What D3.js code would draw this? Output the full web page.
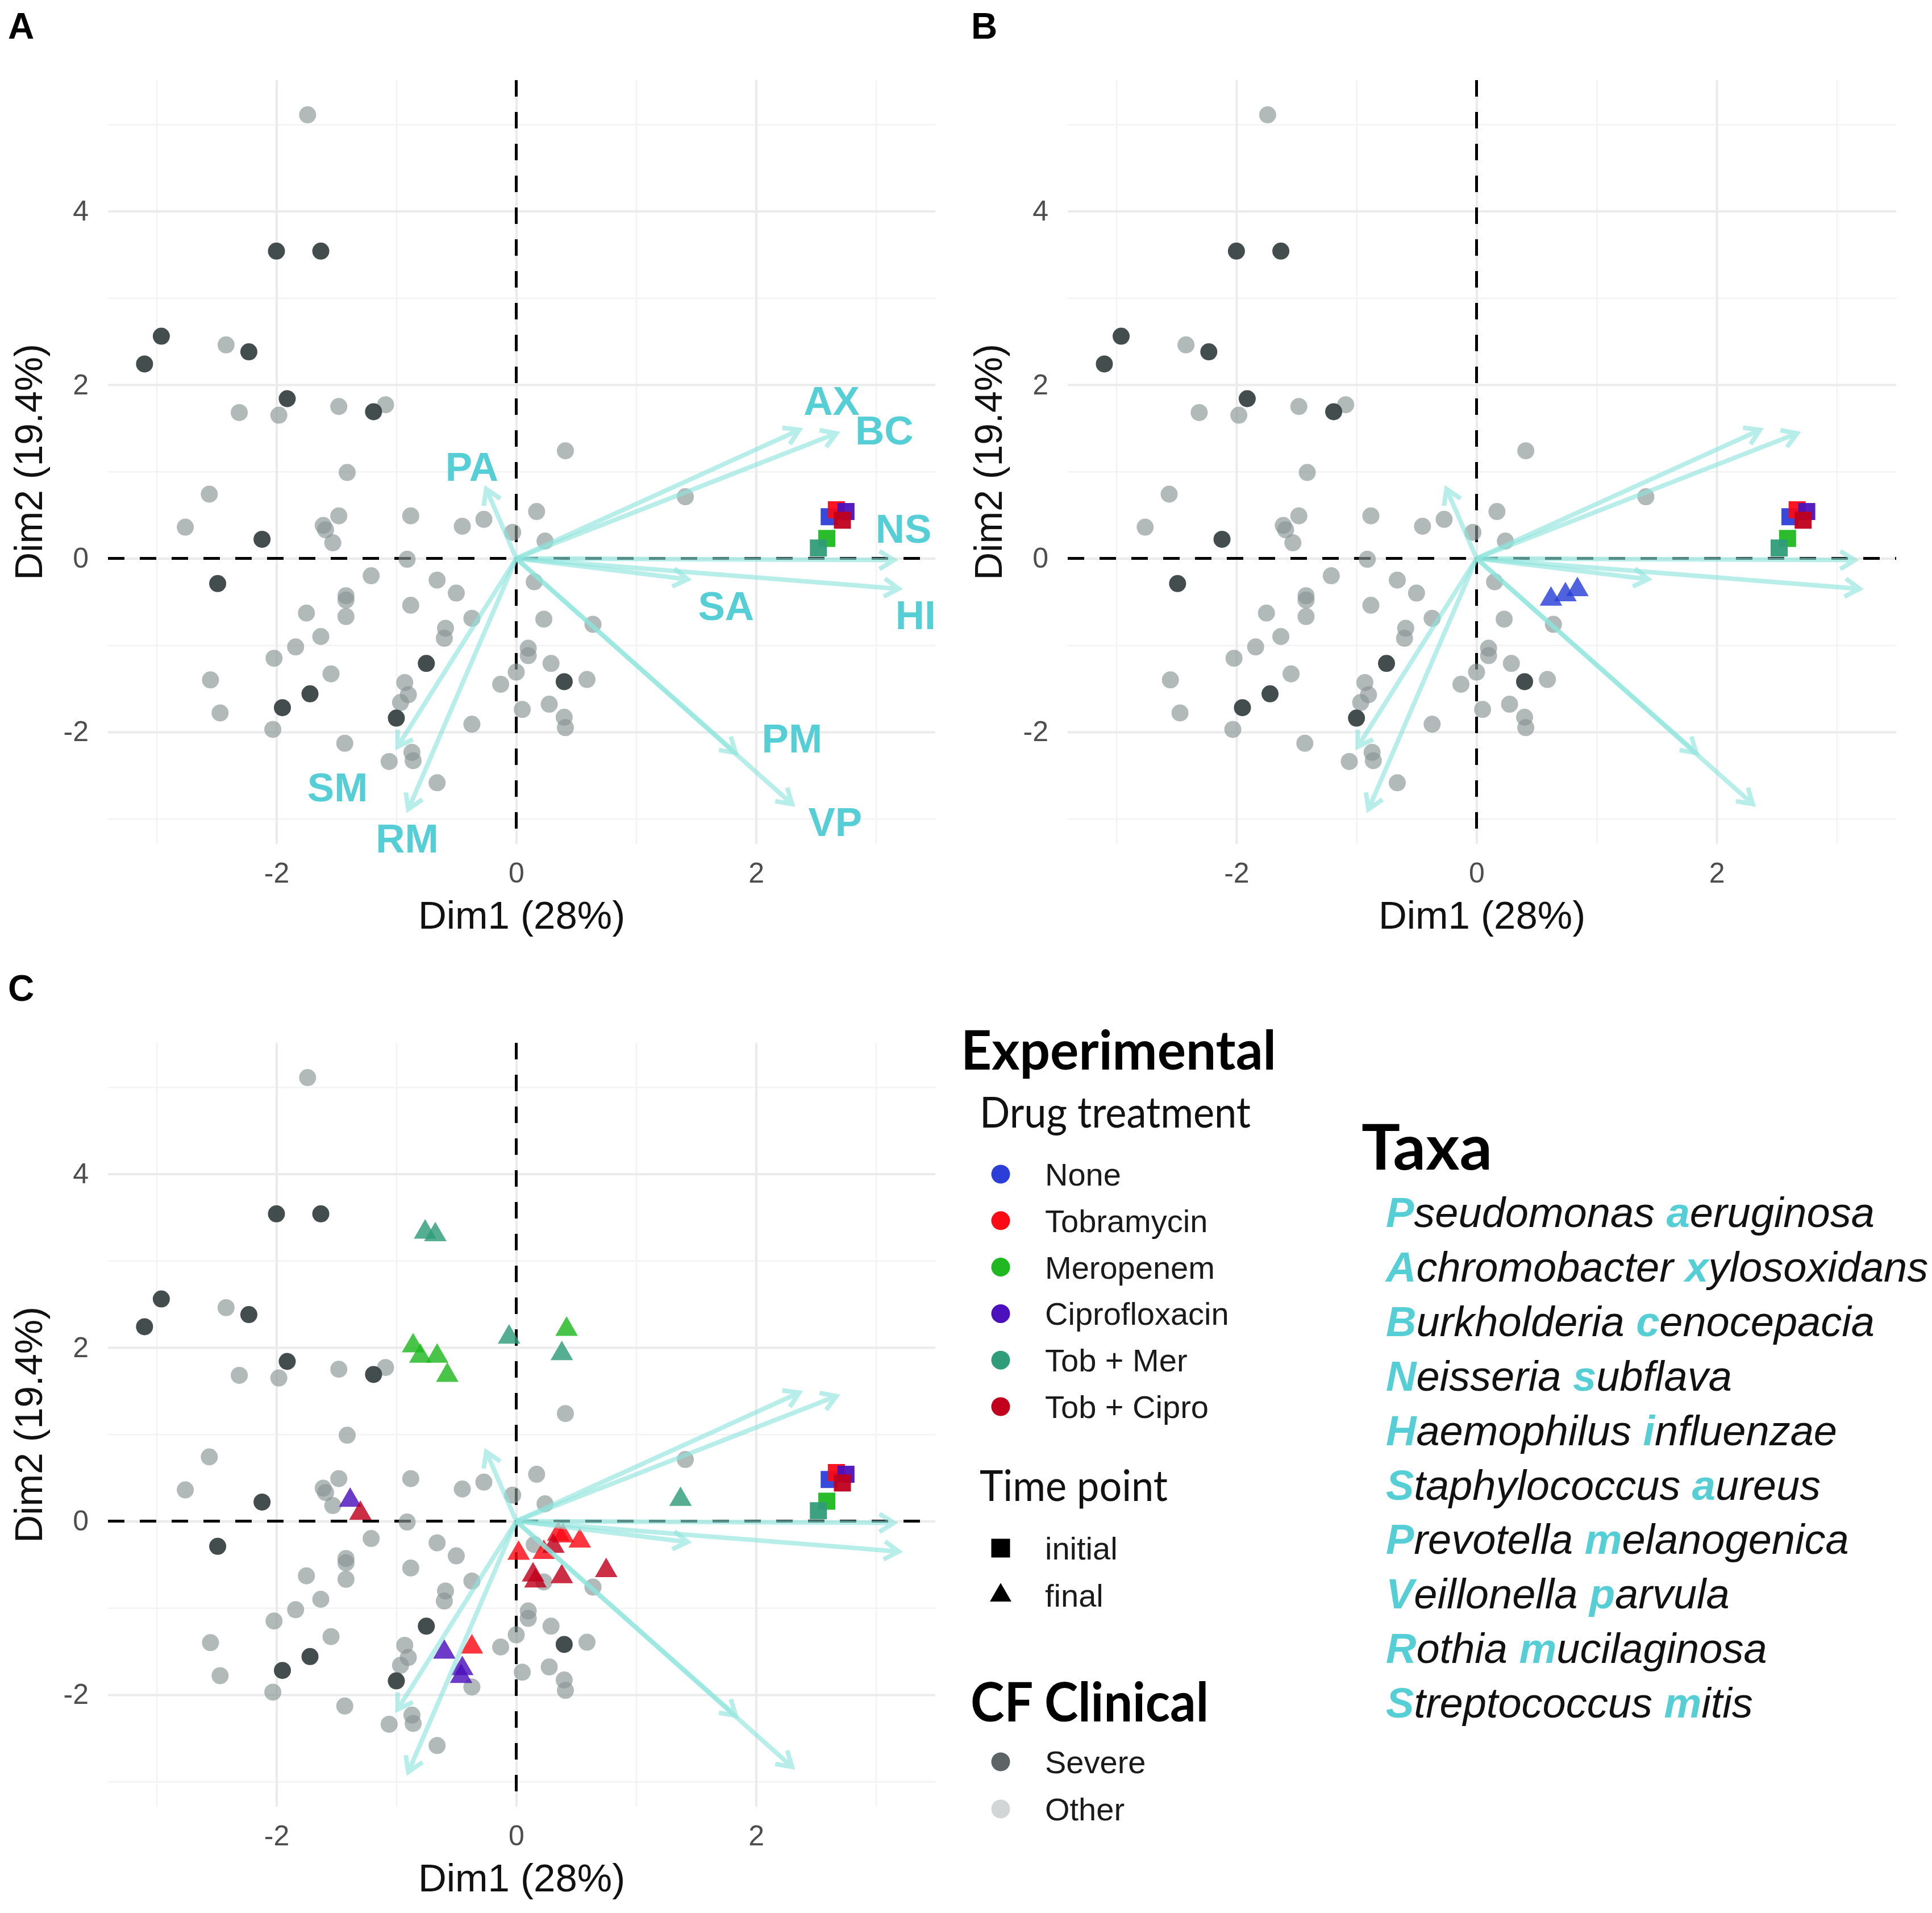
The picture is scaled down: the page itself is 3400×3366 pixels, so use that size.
<!DOCTYPE html>
<html>
<head>
<meta charset="utf-8">
<script src="https://cdn.jsdelivr.net/npm/d3@7"></script>
<style>
  body { margin: 0; background: #fff; }
  svg { display: block; }
</style>
</head>
<body>
<div id="fig"></div>
<script>
// ---- values (PCA scores) ----
// CF clinical samples, "Other"
const otherX = [-1.74, -2.42, -2.31, -1.98, -1.48, -1.09, -1.41, -2.56, -2.76, -1.48, -1.61, -1.59, -1.53, -0.88, -0.45, -0.27, -0.03, 0.17, 0.24, 0.41, 1.41,
  -0.91, -1.21, -0.66, -0.50, -0.88, -1.42, -1.42, -1.42, -1.75, -1.63, -1.84, -2.02, -1.545, -2.55, -2.47, -2.03, -1.43, -1.06, -0.87, -0.86, -0.66,
  -0.93, -0.90, -0.965, -0.59, -0.60, -0.37, -0.37, -0.13, 0.00, 0.05, 0.15, 0.23, 0.10, 0.10, 0.29, 0.275, 0.40, 0.41, 0.59, 0.64];
const otherY = [5.11, 2.46, 1.68, 1.65, 1.75, 1.77, 0.99, 0.74, 0.36, 0.49, 0.38, 0.33, 0.18, 0.49, 0.37, 0.45, 0.30, 0.54, 0.20, 1.24, 0.71,
  -0.01, -0.20, -0.25, -0.40, -0.54, -0.43, -0.48, -0.67, -0.63, -0.90, -1.02, -1.15, -1.33, -1.40, -1.78, -1.97, -2.13, -2.34, -2.235, -2.33, -2.585,
  -1.43, -1.57, -1.66, -0.805, -0.92, -0.69, -1.91, -1.45, -1.31, -1.74, -0.27, -0.70, -1.035, -1.12, -1.21, -1.68, -1.83, -1.95, -1.395, -0.76];
// CF clinical samples, "Severe"
const severeX = [-2.00, -1.63, -2.96, -3.10, -2.23, -1.91, -1.19, -2.12, -2.49, -0.75, -1.72, -1.95, -1.00, 0.40];
const severeY = [3.54, 3.54, 2.56, 2.24, 2.38, 1.84, 1.69, 0.22, -0.29, -1.21, -1.56, -1.72, -1.84, -1.42];

// taxa loadings (arrow tips) and where their labels sit
const taxaCodes = ["PA", "AX", "BC", "NS", "HI", "SA", "PM", "VP", "SM", "RM"];
const arrowX = [-0.25, 2.36, 2.67, 3.15, 3.19, 1.43, 1.83, 2.30, -0.99, -0.90];
const arrowY = [0.80, 1.48, 1.44, -0.02, -0.35, -0.24, -2.24, -2.83, -2.17, -2.89];
const labelX = [-0.37, 2.63, 3.07, 3.23, 3.33, 1.75, 2.30, 2.66, -1.49, -0.91];
const labelY = [1.06, 1.82, 1.48, 0.35, -0.65, -0.54, -2.07, -3.03, -2.63, -3.22];

// drug treatments
const treatments = ["None", "Tobramycin", "Meropenem", "Ciprofloxacin", "Tob + Mer", "Tob + Cipro"];
const treatColors = ["#2b3fd8", "#fa0a14", "#20b820", "#4c10bc", "#2f9c7a", "#c0001c"];

// initial time point (squares) - drawn in every panel
const initTreat = ["None", "Tobramycin", "Ciprofloxacin", "Tob + Cipro", "Meropenem", "Tob + Mer"];
const initX = [2.61, 2.67, 2.75, 2.72, 2.59, 2.52];
const initY = [0.48, 0.56, 0.54, 0.44, 0.23, 0.12];

// final time point, no drug (panel B)
const noneFinalX = [0.62, 0.74, 0.84];
const noneFinalY = [-0.47, -0.42, -0.36];

// final time point, with drug (panel C)
const finalTreat = ["Meropenem", "Meropenem", "Meropenem", "Meropenem", "Meropenem",
  "Tob + Mer", "Tob + Mer", "Tob + Mer", "Tob + Mer", "Tob + Mer",
  "Ciprofloxacin", "Ciprofloxacin", "Ciprofloxacin", "Ciprofloxacin",
  "Tobramycin", "Tobramycin", "Tobramycin", "Tobramycin", "Tobramycin", "Tobramycin",
  "Tob + Cipro", "Tob + Cipro", "Tob + Cipro", "Tob + Cipro", "Tob + Cipro", "Tob + Cipro"];
const finalX = [-0.86, -0.80, -0.66, -0.575, 0.42,
  -0.76, -0.675, -0.06, 0.38, 1.37,
  -1.385, -0.60, -0.45, -0.46,
  0.02, 0.35, 0.39, 0.53, 0.23, -0.37,
  -1.30, 0.31, 0.14, 0.16, 0.38, 0.75];
const finalY = [2.02, 1.90, 1.90, 1.68, 2.21,
  3.33, 3.30, 2.12, 1.93, 0.25,
  0.24, -1.51, -1.70, -1.79,
  -0.37, -0.15, -0.17, -0.23, -0.36, -1.45,
  0.09, -0.29, -0.62, -0.69, -0.64, -0.57];

const timePoints = ["initial", "final"];
const clinical = ["Severe", "Other"];
const clinicalColors = ["#5d6465", "#d2d6d6"];

const taxaNames = [["Pseudomonas", "aeruginosa"], ["Achromobacter", "xylosoxidans"], ["Burkholderia", "cenocepacia"],
  ["Neisseria", "subflava"], ["Haemophilus", "influenzae"], ["Staphylococcus", "aureus"], ["Prevotella", "melanogenica"],
  ["Veillonella", "parvula"], ["Rothia", "mucilaginosa"], ["Streptococcus", "mitis"]];

const xMajor = [-2, 0, 2], xMinor = [-3, -1, 1, 3];
const yMajor = [-2, 0, 2, 4], yMinor = [-3, -1, 1, 3, 5];

// ---- drawing ----
const W = 3400, H = 3366;
const FONT = "'Liberation Sans', Arial, sans-serif";
const TFONT = "Lato, 'Open Sans', sans-serif";
const CYAN = "#56ced6";
const colorOf = d3.scaleOrdinal().domain(treatments).range(treatColors);

const fig = d3.select("#fig").append("svg")
  .attr("width", W).attr("height", H)
  .style("background", "#fff");

const xDomain = [-3.405, 3.495];
const yDomain = [-3.29, 5.51];

const panels = [
  { id: "A", left: 190, right: 1646, top: 141, bottom: 1485, letterX: 14, letterY: 68, labels: true, finals: "none" },
  { id: "B", left: 1879, right: 3337, top: 141, bottom: 1485, letterX: 1709, letterY: 68, labels: false, finals: "B" },
  { id: "C", left: 190, right: 1646, top: 1835, bottom: 3179, letterX: 14, letterY: 1761, labels: false, finals: "C" }
];

function arrowPath(x1, y1, x2, y2) {
  const a = Math.atan2(y2 - y1, x2 - x1), L = 30, s = 32 * Math.PI / 180;
  const w1 = [x2 - L * Math.cos(a - s), y2 - L * Math.sin(a - s)];
  const w2 = [x2 - L * Math.cos(a + s), y2 - L * Math.sin(a + s)];
  return `M${x1},${y1}L${x2},${y2}M${w1[0]},${w1[1]}L${x2},${y2}L${w2[0]},${w2[1]}`;
}

function grid(g, axis, transform, color, width) {
  g.append("g").attr("transform", transform).call(axis)
    .call(a => a.select(".domain").remove())
    .selectAll("line").attr("stroke", color).attr("stroke-width", width);
}

panels.forEach(p => {
  const x = d3.scaleLinear().domain(xDomain).range([p.left, p.right]);
  const y = d3.scaleLinear().domain(yDomain).range([p.bottom, p.top]);
  const w = p.right - p.left, h = p.bottom - p.top;
  const g = fig.append("g").attr("class", "panel-" + p.id);

  // grid lines
  grid(g, d3.axisBottom(x).tickValues(xMinor).tickSize(-h).tickFormat(""), `translate(0,${p.bottom})`, "#f3f3f3", 2.5);
  grid(g, d3.axisLeft(y).tickValues(yMinor).tickSize(-w).tickFormat(""), `translate(${p.left},0)`, "#f3f3f3", 2.5);
  grid(g, d3.axisBottom(x).tickValues(xMajor).tickSize(-h).tickFormat(""), `translate(0,${p.bottom})`, "#ebebeb", 4);
  grid(g, d3.axisLeft(y).tickValues(yMajor).tickSize(-w).tickFormat(""), `translate(${p.left},0)`, "#ebebeb", 4);

  // tick labels
  const xa = g.append("g").attr("transform", `translate(0,${p.bottom})`)
    .call(d3.axisBottom(x).tickValues(xMajor).tickSize(0).tickPadding(32).tickFormat(d => String(d)));
  const ya = g.append("g").attr("transform", `translate(${p.left},0)`)
    .call(d3.axisLeft(y).tickValues(yMajor).tickSize(0).tickPadding(34).tickFormat(d => String(d)));
  [xa, ya].forEach(a => {
    a.select(".domain").remove();
    a.selectAll("text").attr("font-size", 50).attr("font-family", FONT).attr("fill", "#4d4d4d");
  });

  // zero lines
  g.append("line").attr("x1", p.left).attr("x2", p.right).attr("y1", y(0)).attr("y2", y(0))
    .attr("stroke", "#000").attr("stroke-width", 5).attr("stroke-dasharray", "29 27");
  g.append("line").attr("x1", x(0)).attr("x2", x(0)).attr("y1", p.top).attr("y2", p.bottom)
    .attr("stroke", "#000").attr("stroke-width", 5).attr("stroke-dasharray", "29 27");

  // clinical samples
  g.append("g").selectAll("circle").data(otherX).join("circle")
    .attr("cx", d => x(d)).attr("cy", (d, i) => y(otherY[i])).attr("r", 15)
    .attr("fill", "#8a9494").attr("fill-opacity", 0.66);
  g.append("g").selectAll("circle").data(severeX).join("circle")
    .attr("cx", d => x(d)).attr("cy", (d, i) => y(severeY[i])).attr("r", 15)
    .attr("fill", "#3a4345").attr("fill-opacity", 0.95);

  // initial squares
  const sq = d3.symbol(d3.symbolSquare, 900);
  g.append("g").selectAll("path").data(initX).join("path")
    .attr("d", sq)
    .attr("transform", (d, i) => `translate(${x(d)},${y(initY[i])})`)
    .attr("fill", (d, i) => colorOf(initTreat[i])).attr("fill-opacity", 0.95);

  // final triangles
  const tri = d3.symbol(d3.symbolTriangle, 680);
  let fx = [], fy = [], ft = [];
  if (p.finals === "B") { fx = noneFinalX; fy = noneFinalY; ft = noneFinalX.map(() => "None"); }
  if (p.finals === "C") { fx = finalX; fy = finalY; ft = finalTreat; }
  g.append("g").selectAll("path").data(fx).join("path")
    .attr("d", tri)
    .attr("transform", (d, i) => `translate(${x(d)},${y(fy[i])})`)
    .attr("fill", (d, i) => colorOf(ft[i])).attr("fill-opacity", 0.82);

  // loading arrows
  g.append("g").selectAll("path").data(arrowX).join("path")
    .attr("d", (d, i) => arrowPath(x(0), y(0), x(d), y(arrowY[i])))
    .attr("fill", "none").attr("stroke", "#8ce3dc").attr("stroke-opacity", 0.62)
    .attr("stroke-width", 8).attr("stroke-linejoin", "miter");

  if (p.labels) {
    g.append("g").selectAll("text").data(taxaCodes).join("text")
      .attr("x", (d, i) => x(labelX[i])).attr("y", (d, i) => y(labelY[i]))
      .attr("text-anchor", "middle").attr("dy", "0.36em")
      .attr("font-family", FONT).attr("font-weight", "bold").attr("font-size", 71)
      .attr("fill", CYAN).text(d => d);
  }

  // axis titles
  g.append("text").attr("x", (p.left + p.right) / 2).attr("y", p.bottom + 125)
    .attr("text-anchor", "middle").attr("dy", "0.35em")
    .attr("font-family", FONT).attr("font-size", 69).attr("fill", "#111")
    .text("Dim1 (28%)");
  g.append("text")
    .attr("transform", `translate(${p.left - 140},${(p.top + p.bottom) / 2}) rotate(-90)`)
    .attr("text-anchor", "middle").attr("dy", "0.35em")
    .attr("font-family", FONT).attr("font-size", 68).attr("fill", "#111")
    .text("Dim2 (19.4%)");

  // panel letter
  fig.append("text").attr("x", p.letterX).attr("y", p.letterY)
    .attr("font-family", FONT).attr("font-weight", "bold").attr("font-size", 64)
    .attr("fill", "#000").text(p.id);
});

// ---- legend ----
const leg = fig.append("g").attr("class", "legend");
const keyX = 1761, textX = 1839, step = 81.8;

leg.append("text").attr("x", 1691).attr("y", 1882)
  .attr("font-family", TFONT).attr("font-weight", "bold").attr("font-size", 96)
  .attr("textLength", 555).attr("lengthAdjust", "spacingAndGlyphs").attr("fill", "#000")
  .text("Experimental");
leg.append("text").attr("x", 1724).attr("y", 1984)
  .attr("font-family", TFONT).attr("font-size", 75)
  .attr("textLength", 477).attr("lengthAdjust", "spacingAndGlyphs").attr("fill", "#111")
  .text("Drug treatment");

const drug = leg.append("g").selectAll("g").data(treatments).join("g")
  .attr("transform", (d, i) => `translate(0,${2066 + i * step})`);
drug.append("circle").attr("cx", keyX).attr("cy", 0).attr("r", 16.5).attr("fill", d => colorOf(d));
drug.append("text").attr("x", textX).attr("y", 20)
  .attr("font-family", FONT).attr("font-size", 56).attr("fill", "#1a1a1a").text(d => d);

leg.append("text").attr("x", 1724).attr("y", 2641)
  .attr("font-family", TFONT).attr("font-size", 75)
  .attr("textLength", 331).attr("lengthAdjust", "spacingAndGlyphs").attr("fill", "#111")
  .text("Time point");
const shapeOf = { initial: d3.symbol(d3.symbolSquare, 1090), final: d3.symbol(d3.symbolTriangle, 620) };
const tp = leg.append("g").selectAll("g").data(timePoints).join("g")
  .attr("transform", (d, i) => `translate(0,${2724 + i * 83})`);
tp.append("path").attr("d", d => shapeOf[d]()).attr("transform", `translate(${keyX},0)`).attr("fill", "#000");
tp.append("text").attr("x", textX).attr("y", 20)
  .attr("font-family", FONT).attr("font-size", 56).attr("fill", "#1a1a1a").text(d => d);

leg.append("text").attr("x", 1708).attr("y", 3029)
  .attr("font-family", TFONT).attr("font-weight", "bold").attr("font-size", 96)
  .attr("textLength", 419).attr("lengthAdjust", "spacingAndGlyphs").attr("fill", "#000")
  .text("CF Clinical");
const cf = leg.append("g").selectAll("g").data(clinical).join("g")
  .attr("transform", (d, i) => `translate(0,${3100 + i * 83})`);
cf.append("circle").attr("cx", keyX).attr("cy", 0).attr("r", 16.5)
  .attr("fill", (d, i) => clinicalColors[i]);
cf.append("text").attr("x", textX).attr("y", 20)
  .attr("font-family", FONT).attr("font-size", 56).attr("fill", "#1a1a1a").text(d => d);

// taxa key
leg.append("text").attr("x", 2396).attr("y", 2058)
  .attr("font-family", TFONT).attr("font-weight", "bold").attr("font-size", 112)
  .attr("textLength", 230).attr("lengthAdjust", "spacingAndGlyphs").attr("fill", "#000")
  .text("Taxa");
const tx = leg.append("g").selectAll("text").data(taxaNames).join("text")
  .attr("x", 2439).attr("y", (d, i) => 2159 + i * 95.9)
  .attr("font-family", FONT).attr("font-style", "italic").attr("font-size", 74).attr("fill", "#111");
tx.each(function (d) {
  const t = d3.select(this);
  t.append("tspan").attr("fill", CYAN).attr("font-weight", "bold").text(d[0][0]);
  t.append("tspan").text(d[0].slice(1) + " ");
  t.append("tspan").attr("fill", CYAN).attr("font-weight", "bold").text(d[1][0]);
  t.append("tspan").text(d[1].slice(1));
});
</script>
</body>
</html>
